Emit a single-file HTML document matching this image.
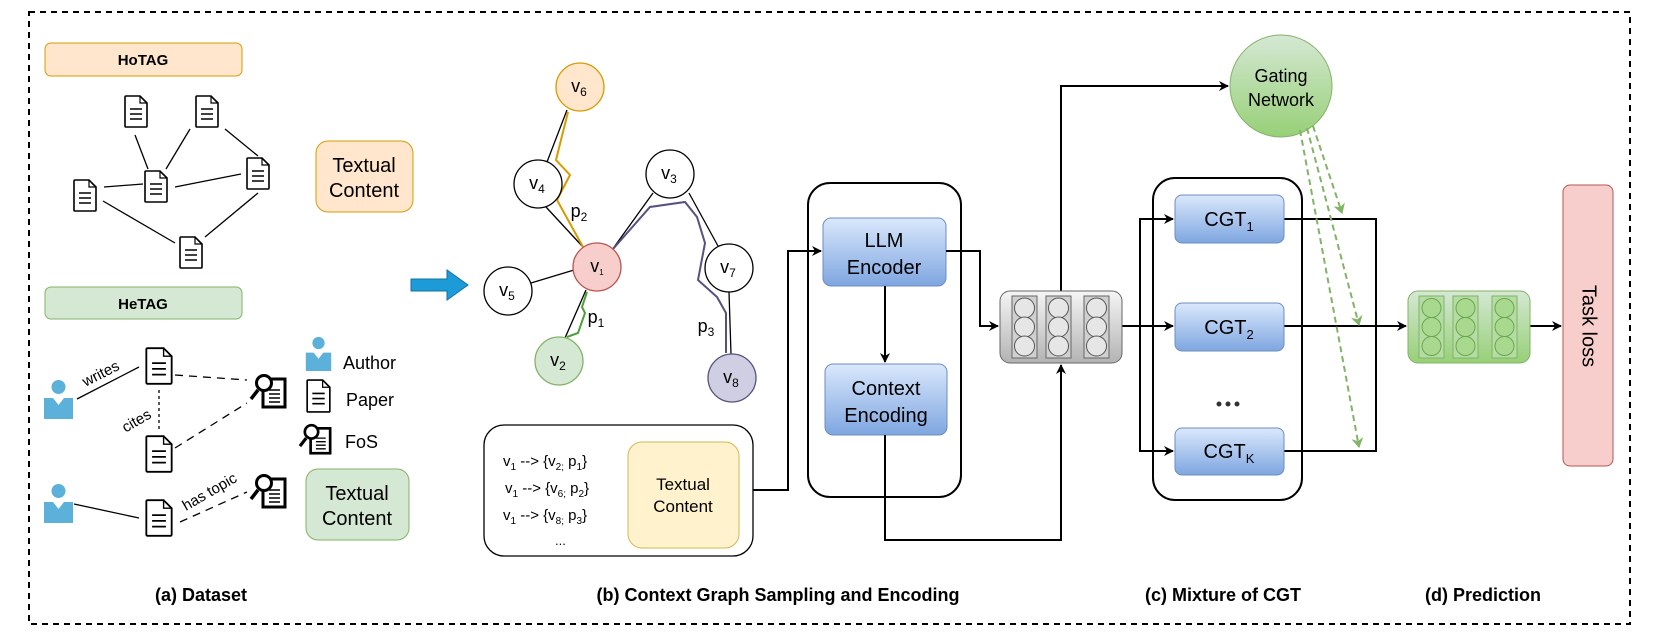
<!DOCTYPE html>
<html><head><meta charset="utf-8"><style>
html,body{margin:0;padding:0;background:#fff;}
svg{display:block;}
text{font-family:"Liberation Sans",Arial,sans-serif;fill:#000;}
</style></head><body>
<svg width="1661" height="640" viewBox="0 0 1661 640" xmlns="http://www.w3.org/2000/svg">
<defs>
<linearGradient id="gBlue" x1="0" y1="0" x2="0" y2="1"><stop offset="0" stop-color="#dae8fc"/><stop offset="1" stop-color="#7ea6e0"/></linearGradient>
<linearGradient id="gGreen" x1="0" y1="0" x2="0" y2="1"><stop offset="0" stop-color="#d5e8d4"/><stop offset="1" stop-color="#97d077"/></linearGradient>
<linearGradient id="gGray" x1="0" y1="0" x2="0" y2="1"><stop offset="0" stop-color="#f5f5f5"/><stop offset="1" stop-color="#b3b3b3"/></linearGradient>
<marker id="ah" markerWidth="10" markerHeight="10" refX="9" refY="5" orient="auto" markerUnits="userSpaceOnUse"><path d="M0,0 L10,5 L0,10 L3,5 Z" fill="#000"/></marker>
<marker id="ahg" markerWidth="10" markerHeight="12" refX="9" refY="6" orient="auto" markerUnits="userSpaceOnUse"><path d="M0,0 L10,6 L0,12 L3,6 Z" fill="#82b366"/></marker>
<symbol id="doc" viewBox="0 0 24 33" overflow="visible">
<path d="M2,1 H16 L23,8 V31 a1,1 0 0 1 -1,1 H2 a1,1 0 0 1 -1,-1 V2 a1,1 0 0 1 1,-1 Z" fill="#fff" stroke="#000" stroke-width="1.6"/>
<path d="M16,1 V8 H23" fill="none" stroke="#000" stroke-width="1.2"/>
<path d="M6,14 H18 M6,19 H18 M6,24 H18" stroke="#000" stroke-width="1.6"/>
</symbol>
<symbol id="author" viewBox="0 0 29 40" overflow="visible">
<circle cx="14.5" cy="8" r="7" fill="#5cb1da"/>
<path d="M0,19 H9 L14.5,26 L20,19 H29 V40 H0 Z" fill="#5cb1da"/>
</symbol>
<symbol id="fos" viewBox="0 0 37 36" overflow="visible">
<rect x="13" y="6" width="22" height="28" fill="#fff" stroke="#000" stroke-width="3"/>
<path d="M19,17 H30 M19,21 H30 M19,25 H30 M19,29 H30" stroke="#000" stroke-width="1.5"/>
<line x1="8" y1="17" x2="1" y2="26" stroke="#000" stroke-width="3.5"/>
<circle cx="14" cy="10" r="7.5" fill="#fff" stroke="#000" stroke-width="3"/>
</symbol>
</defs>

<rect x="29" y="12" width="1601" height="612" fill="none" stroke="#000" stroke-width="2" stroke-dasharray="6,5"/>

<rect x="45" y="43" width="197" height="33" rx="6" fill="#ffe6cc" stroke="#d79b00"/>
<text x="143" y="65" font-size="15" font-weight="bold" text-anchor="middle">HoTAG</text>
<g stroke="#000" stroke-width="1.3">
<line x1="135" y1="135" x2="148" y2="169"/><line x1="190" y1="129" x2="166" y2="169"/>
<line x1="225" y1="129" x2="258" y2="156"/><line x1="104" y1="187" x2="143" y2="184"/>
<line x1="175" y1="187" x2="241" y2="174"/><line x1="103" y1="201" x2="175" y2="243"/>
<line x1="258" y1="193" x2="205" y2="237"/>
</g>
<use href="#doc" x="124" y="95" width="24" height="33"/>
<use href="#doc" x="195" y="95" width="24" height="33"/>
<use href="#doc" x="73" y="179" width="24" height="33"/>
<use href="#doc" x="144" y="170" width="24" height="33"/>
<use href="#doc" x="246" y="157" width="24" height="33"/>
<use href="#doc" x="179" y="236" width="24" height="33"/>
<rect x="316" y="141" width="97" height="71" rx="12" fill="#ffe6cc" stroke="#d79b00"/>
<text x="364" y="172" font-size="20" text-anchor="middle">Textual</text>
<text x="364" y="197" font-size="20" text-anchor="middle">Content</text>

<rect x="45" y="287" width="197" height="32" rx="6" fill="#d5e8d4" stroke="#82b366"/>
<text x="143" y="309" font-size="15" font-weight="bold" text-anchor="middle">HeTAG</text>
<g stroke="#000" stroke-width="1.3" fill="none">
<line x1="77" y1="399" x2="139" y2="367"/>
<line x1="175" y1="375" x2="247" y2="380" stroke-dasharray="8,6"/>
<line x1="159" y1="390" x2="159" y2="432" stroke-dasharray="3,3"/>
<line x1="175" y1="448" x2="247" y2="403" stroke-dasharray="8,6"/>
<line x1="74" y1="504" x2="139" y2="518"/>
<line x1="180" y1="522" x2="247" y2="492" stroke-dasharray="8,6"/>
</g>
<text x="103" y="378" font-size="15" text-anchor="middle" transform="rotate(-27 103 378)">writes</text>
<text x="139" y="425" font-size="15" text-anchor="middle" transform="rotate(-30 139 425)">cites</text>
<text x="212" y="496" font-size="15" text-anchor="middle" transform="rotate(-30 212 496)">has topic</text>
<use href="#doc" x="145" y="347" width="28" height="38"/>
<use href="#doc" x="145" y="435" width="28" height="38"/>
<use href="#doc" x="145" y="499" width="28" height="38"/>
<use href="#author" x="44" y="379" width="29" height="40"/>
<use href="#author" x="44" y="483" width="29" height="40"/>
<use href="#fos" x="250" y="373" width="37" height="36"/>
<use href="#fos" x="250" y="473" width="37" height="36"/>
<use href="#author" x="305" y="336" width="27" height="35"/>
<text x="343" y="369" font-size="18">Author</text>
<use href="#doc" x="306" y="379" width="25" height="34"/>
<text x="346" y="406" font-size="18">Paper</text>
<use href="#fos" x="299" y="423" width="33" height="32"/>
<text x="345" y="448" font-size="18">FoS</text>
<rect x="306" y="469" width="103" height="71" rx="12" fill="#d5e8d4" stroke="#82b366"/>
<text x="357" y="500" font-size="20" text-anchor="middle">Textual</text>
<text x="357" y="525" font-size="20" text-anchor="middle">Content</text>

<path d="M411,279 H447 V270 L468,285 L447,300 V291 H411 Z" fill="#1d9bd8" stroke="#10739e" stroke-width="1"/>

<g stroke="#000" stroke-width="1.3">
<line x1="567" y1="110" x2="547" y2="162"/><line x1="546" y1="207" x2="583" y2="247"/>
<line x1="612" y1="250" x2="653" y2="193"/><line x1="689" y1="193" x2="718" y2="246"/>
<line x1="729" y1="292" x2="731" y2="354"/><line x1="574" y1="270" x2="531" y2="283"/>
<line x1="586" y1="290" x2="565" y2="338"/>
</g>
<g fill="none" stroke-width="2">
<path d="M568,112 L556,160 L570,175 L557,200 L583,247" stroke="#d79b00"/>
<path d="M587,292 L582,307 L585,313 L578,333 L567,337" stroke="#4d9f3a"/>
<path d="M613,249 L650,207 L685,202 L697,217 L705,243 L698,280 L717,297 L726,313 L726,353" stroke="#56517e"/>
</g>
<g stroke-width="1.3">
<circle cx="580" cy="87" r="24" fill="#ffe6cc" stroke="#d79b00"/>
<circle cx="538" cy="184" r="24" fill="#fff" stroke="#000"/>
<circle cx="670" cy="174" r="24" fill="#fff" stroke="#000"/>
<circle cx="597" cy="267" r="24" fill="#f8cecc" stroke="#b85450"/>
<circle cx="508" cy="291" r="24" fill="#fff" stroke="#000"/>
<circle cx="729" cy="268" r="24" fill="#fff" stroke="#000"/>
<circle cx="559" cy="361" r="24" fill="#d5e8d4" stroke="#82b366"/>
<circle cx="732" cy="378" r="24" fill="#d0cee2" stroke="#56517e"/>
</g>
<g font-size="18" text-anchor="middle">
<text x="579" y="92">v<tspan font-size="12" dy="4">6</tspan></text>
<text x="537" y="189">v<tspan font-size="12" dy="4">4</tspan></text>
<text x="669" y="179">v<tspan font-size="12" dy="4">3</tspan></text>
<text x="597" y="272">v<tspan font-size="8" dy="3">1</tspan></text>
<text x="507" y="296">v<tspan font-size="12" dy="4">5</tspan></text>
<text x="728" y="273">v<tspan font-size="12" dy="4">7</tspan></text>
<text x="558" y="366">v<tspan font-size="12" dy="4">2</tspan></text>
<text x="731" y="383">v<tspan font-size="12" dy="4">8</tspan></text>
<text x="579" y="217" fill="#7f6000">p<tspan font-size="12" dy="4">2</tspan></text>
<text x="596" y="323" fill="#2d8a2d">p<tspan font-size="12" dy="4">1</tspan></text>
<text x="706" y="332" fill="#56517e">p<tspan font-size="12" dy="4">3</tspan></text>
</g>

<rect x="484" y="425" width="269" height="131" rx="20" fill="#fff" stroke="#000" stroke-width="1.3"/>
<rect x="628" y="442" width="111" height="106" rx="14" fill="#fff2cc" stroke="#d6b656"/>
<text x="683" y="490" font-size="17" text-anchor="middle">Textual</text>
<text x="683" y="512" font-size="17" text-anchor="middle">Content</text>
<g font-size="15">
<text x="503" y="466">v<tspan font-size="10" dy="4">1</tspan><tspan dy="-4"> --&gt; {v</tspan><tspan font-size="10" dy="4">2;</tspan><tspan dy="-4"> p</tspan><tspan font-size="10" dy="4">1</tspan><tspan dy="-4">}</tspan></text>
<text x="505" y="493">v<tspan font-size="10" dy="4">1</tspan><tspan dy="-4"> --&gt; {v</tspan><tspan font-size="10" dy="4">6;</tspan><tspan dy="-4"> p</tspan><tspan font-size="10" dy="4">2</tspan><tspan dy="-4">}</tspan></text>
<text x="503" y="520">v<tspan font-size="10" dy="4">1</tspan><tspan dy="-4"> --&gt; {v</tspan><tspan font-size="10" dy="4">8;</tspan><tspan dy="-4"> p</tspan><tspan font-size="10" dy="4">3</tspan><tspan dy="-4">}</tspan></text>
<text x="555" y="545" font-size="13">...</text>
</g>

<rect x="808" y="183" width="153" height="314" rx="22" fill="none" stroke="#000" stroke-width="2"/>
<rect x="823" y="218" width="123" height="68" rx="8" fill="url(#gBlue)" stroke="#6c8ebf"/>
<text x="884" y="247" font-size="20" text-anchor="middle">LLM</text>
<text x="884" y="274" font-size="20" text-anchor="middle">Encoder</text>
<rect x="825" y="364" width="122" height="71" rx="8" fill="url(#gBlue)" stroke="#6c8ebf"/>
<text x="886" y="395" font-size="20" text-anchor="middle">Context</text>
<text x="886" y="422" font-size="20" text-anchor="middle">Encoding</text>

<g fill="none" stroke="#000" stroke-width="2">
<path d="M753,490 H788 V251 H821" marker-end="url(#ah)"/>
<path d="M885,286 V362" marker-end="url(#ah)"/>
<path d="M946,251 H980 V326 H998" marker-end="url(#ah)"/>
<path d="M885,435 V540 H1061 V365" marker-end="url(#ah)"/>
<path d="M1061,291 V86 H1228" marker-end="url(#ah)"/>
<path d="M1122,326 H1173" marker-end="url(#ah)"/>
<path d="M1140,326 V219 H1173" marker-end="url(#ah)"/>
<path d="M1140,326 V451 H1173" marker-end="url(#ah)"/>
<path d="M1284,219 H1376 V451 H1284"/>
<path d="M1284,326 H1406" marker-end="url(#ah)"/>
<path d="M1530,326 H1561" marker-end="url(#ah)"/>
</g>

<rect x="1000" y="291" width="122" height="72" rx="10" fill="url(#gGray)" stroke="#666"/>
<g stroke="#666" fill="#d0d0d0">
<rect x="1012" y="296" width="25" height="62"/><rect x="1046" y="296" width="25" height="62"/><rect x="1084" y="296" width="25" height="62"/>
</g>
<g stroke="#555" fill="#e6e6e6">
<circle cx="1024.5" cy="308" r="10"/><circle cx="1024.5" cy="327" r="10"/><circle cx="1024.5" cy="346" r="10"/>
<circle cx="1058.5" cy="308" r="10"/><circle cx="1058.5" cy="327" r="10"/><circle cx="1058.5" cy="346" r="10"/>
<circle cx="1096.5" cy="308" r="10"/><circle cx="1096.5" cy="327" r="10"/><circle cx="1096.5" cy="346" r="10"/>
</g>

<ellipse cx="1281" cy="86" rx="51" ry="51" fill="url(#gGreen)" stroke="#82b366"/>
<text x="1281" y="82" font-size="18" text-anchor="middle">Gating</text>
<text x="1281" y="106" font-size="18" text-anchor="middle">Network</text>

<rect x="1153" y="178" width="149" height="322" rx="22" fill="none" stroke="#000" stroke-width="2"/>
<rect x="1175" y="195" width="109" height="48" rx="7" fill="url(#gBlue)" stroke="#6c8ebf"/>
<rect x="1175" y="303" width="109" height="48" rx="7" fill="url(#gBlue)" stroke="#6c8ebf"/>
<rect x="1175" y="428" width="109" height="47" rx="7" fill="url(#gBlue)" stroke="#6c8ebf"/>
<g font-size="20" text-anchor="middle">
<text x="1229" y="226">CGT<tspan font-size="13" dy="5">1</tspan></text>
<text x="1229" y="334">CGT<tspan font-size="13" dy="5">2</tspan></text>
<text x="1229" y="458">CGT<tspan font-size="13" dy="5">K</tspan></text>
</g>
<g fill="#333"><circle cx="1219" cy="404" r="2.5"/><circle cx="1228" cy="404" r="2.5"/><circle cx="1237" cy="404" r="2.5"/></g>

<g stroke="#82b366" stroke-width="2" stroke-dasharray="6,4" fill="none">
<line x1="1313" y1="126" x2="1342" y2="213" marker-end="url(#ahg)"/>
<line x1="1307" y1="128" x2="1359" y2="325" marker-end="url(#ahg)"/>
<line x1="1300" y1="130" x2="1359" y2="447" marker-end="url(#ahg)"/>
</g>

<rect x="1408" y="291" width="122" height="72" rx="10" fill="url(#gGreen)" stroke="#82b366"/>
<g stroke="#82b366" fill="#b6dca5">
<rect x="1419" y="296" width="25" height="62"/><rect x="1453" y="296" width="25" height="62"/><rect x="1492" y="296" width="25" height="62"/>
</g>
<g stroke="#6aa84f" fill="#a9d88f">
<circle cx="1431.5" cy="308" r="9.5"/><circle cx="1431.5" cy="327" r="9.5"/><circle cx="1431.5" cy="346" r="9.5"/>
<circle cx="1465.5" cy="308" r="9.5"/><circle cx="1465.5" cy="327" r="9.5"/><circle cx="1465.5" cy="346" r="9.5"/>
<circle cx="1504.5" cy="308" r="9.5"/><circle cx="1504.5" cy="327" r="9.5"/><circle cx="1504.5" cy="346" r="9.5"/>
</g>

<rect x="1563" y="185" width="50" height="281" rx="7" fill="#f8cecc" stroke="#b85450"/>
<text x="1588" y="326" font-size="20" text-anchor="middle" dominant-baseline="middle" transform="rotate(90 1588 326)">Task loss</text>

<g font-size="18" font-weight="bold" text-anchor="middle">
<text x="201" y="601">(a) Dataset</text>
<text x="778" y="601">(b) Context Graph Sampling and Encoding</text>
<text x="1223" y="601">(c) Mixture of CGT</text>
<text x="1483" y="601">(d) Prediction</text>
</g>
</svg>
</body></html>
